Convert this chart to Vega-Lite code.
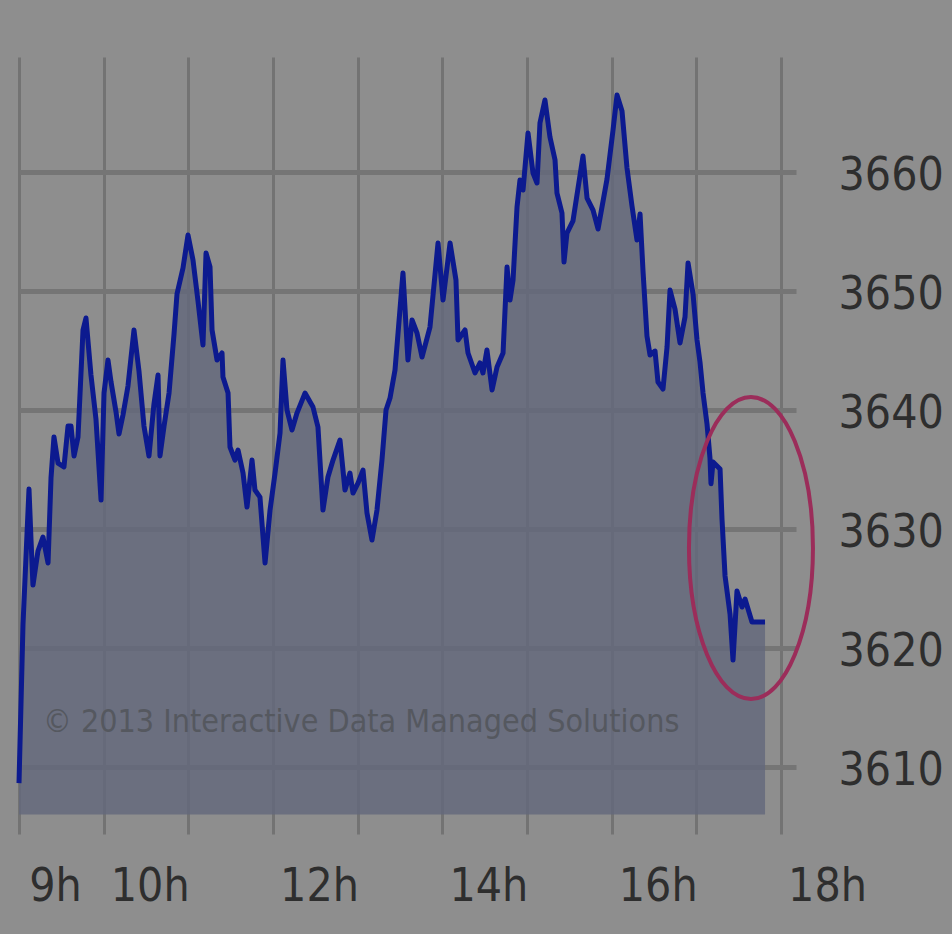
{
  "$schema": "https://vega.github.io/schema/vega-lite/v6.json",
  "width": 777,
  "height": 777,
  "autosize": {"type": "none"},
  "padding": {"left": 19, "top": 57, "right": 156, "bottom": 100},
  "background": "#8e8e8e",
  "config": {"view": {"stroke": null}},
  "data": {"values": [
    {"t": 9.000, "v": 3608.65}, {"t": 9.047, "v": 3621.93}, {"t": 9.118, "v": 3633.36}, {"t": 9.142, "v": 3629.07},
    {"t": 9.165, "v": 3625.29}, {"t": 9.224, "v": 3628.15}, {"t": 9.283, "v": 3629.32}, {"t": 9.343, "v": 3627.14},
    {"t": 9.378, "v": 3634.28}, {"t": 9.413, "v": 3637.73}, {"t": 9.461, "v": 3635.54}, {"t": 9.531, "v": 3635.21},
    {"t": 9.579, "v": 3638.65}, {"t": 9.614, "v": 3638.65}, {"t": 9.650, "v": 3636.13}, {"t": 9.697, "v": 3637.73},
    {"t": 9.756, "v": 3646.72}, {"t": 9.791, "v": 3647.73}, {"t": 9.850, "v": 3642.94}, {"t": 9.909, "v": 3639.24},
    {"t": 9.969, "v": 3632.43}, {"t": 10.004, "v": 3641.42}, {"t": 10.051, "v": 3644.20}, {"t": 10.087, "v": 3642.35},
    {"t": 10.146, "v": 3639.83}, {"t": 10.181, "v": 3637.98}, {"t": 10.228, "v": 3639.58}, {"t": 10.287, "v": 3642.01},
    {"t": 10.358, "v": 3646.72}, {"t": 10.417, "v": 3643.27}, {"t": 10.476, "v": 3638.65}, {"t": 10.535, "v": 3636.13},
    {"t": 10.594, "v": 3640.50}, {"t": 10.642, "v": 3642.94}, {"t": 10.665, "v": 3636.13}, {"t": 10.713, "v": 3638.65},
    {"t": 10.772, "v": 3641.42}, {"t": 10.831, "v": 3646.38}, {"t": 10.866, "v": 3649.74}, {"t": 10.937, "v": 3651.93},
    {"t": 10.996, "v": 3654.70}, {"t": 11.055, "v": 3652.60}, {"t": 11.114, "v": 3649.16}, {"t": 11.173, "v": 3645.46},
    {"t": 11.209, "v": 3653.19}, {"t": 11.256, "v": 3652.01}, {"t": 11.280, "v": 3646.72}, {"t": 11.339, "v": 3644.20},
    {"t": 11.398, "v": 3644.79}, {"t": 11.409, "v": 3642.77}, {"t": 11.469, "v": 3641.42}, {"t": 11.492, "v": 3636.89},
    {"t": 11.551, "v": 3635.79}, {"t": 11.587, "v": 3636.63}, {"t": 11.646, "v": 3634.70}, {"t": 11.693, "v": 3631.84},
    {"t": 11.752, "v": 3635.79}, {"t": 11.787, "v": 3633.27}, {"t": 11.846, "v": 3632.68}, {"t": 11.906, "v": 3627.14},
    {"t": 11.965, "v": 3631.59}, {"t": 12.024, "v": 3634.70}, {"t": 12.083, "v": 3638.06}, {"t": 12.118, "v": 3644.20},
    {"t": 12.165, "v": 3640.00}, {"t": 12.224, "v": 3638.32}, {"t": 12.283, "v": 3639.74}, {"t": 12.378, "v": 3641.42},
    {"t": 12.472, "v": 3640.25}, {"t": 12.531, "v": 3638.57}, {"t": 12.590, "v": 3631.59}, {"t": 12.649, "v": 3634.37},
    {"t": 12.709, "v": 3635.79}, {"t": 12.791, "v": 3637.47}, {"t": 12.850, "v": 3633.27}, {"t": 12.909, "v": 3634.70},
    {"t": 12.945, "v": 3633.02}, {"t": 13.004, "v": 3633.86}, {"t": 13.063, "v": 3634.95}, {"t": 13.110, "v": 3631.34},
    {"t": 13.169, "v": 3629.07}, {"t": 13.228, "v": 3631.59}, {"t": 13.287, "v": 3635.79}, {"t": 13.335, "v": 3640.00},
    {"t": 13.382, "v": 3641.00}, {"t": 13.441, "v": 3643.36}, {"t": 13.535, "v": 3651.51}, {"t": 13.594, "v": 3644.20},
    {"t": 13.642, "v": 3647.56}, {"t": 13.701, "v": 3646.47}, {"t": 13.760, "v": 3644.45}, {"t": 13.854, "v": 3646.97},
    {"t": 13.949, "v": 3654.03}, {"t": 14.008, "v": 3649.24}, {"t": 14.091, "v": 3654.03}, {"t": 14.161, "v": 3650.92},
    {"t": 14.185, "v": 3645.88}, {"t": 14.268, "v": 3646.72}, {"t": 14.303, "v": 3644.79}, {"t": 14.386, "v": 3643.11},
    {"t": 14.445, "v": 3643.95}, {"t": 14.480, "v": 3643.11}, {"t": 14.527, "v": 3645.04}, {"t": 14.587, "v": 3641.68},
    {"t": 14.646, "v": 3643.61}, {"t": 14.717, "v": 3644.79}, {"t": 14.764, "v": 3652.01}, {"t": 14.799, "v": 3649.24},
    {"t": 14.835, "v": 3650.92}, {"t": 14.882, "v": 3657.05}, {"t": 14.917, "v": 3659.32}, {"t": 14.953, "v": 3658.48},
    {"t": 15.012, "v": 3663.27}, {"t": 15.071, "v": 3659.91}, {"t": 15.118, "v": 3659.07}, {"t": 15.153, "v": 3664.11},
    {"t": 15.212, "v": 3666.05}, {"t": 15.271, "v": 3662.94}, {"t": 15.331, "v": 3661.00}, {"t": 15.354, "v": 3658.23},
    {"t": 15.413, "v": 3656.55}, {"t": 15.437, "v": 3652.43}, {"t": 15.472, "v": 3654.87}, {"t": 15.543, "v": 3655.88},
    {"t": 15.661, "v": 3661.34}, {"t": 15.709, "v": 3657.81}, {"t": 15.780, "v": 3656.80}, {"t": 15.839, "v": 3655.21},
    {"t": 15.945, "v": 3659.41}, {"t": 16.016, "v": 3663.53}, {"t": 16.063, "v": 3666.47}, {"t": 16.122, "v": 3665.12},
    {"t": 16.181, "v": 3660.33}, {"t": 16.240, "v": 3657.14}, {"t": 16.299, "v": 3654.28}, {"t": 16.335, "v": 3656.47},
    {"t": 16.370, "v": 3651.68}, {"t": 16.417, "v": 3646.21}, {"t": 16.453, "v": 3644.62}, {"t": 16.512, "v": 3644.95},
    {"t": 16.547, "v": 3642.35}, {"t": 16.606, "v": 3641.76}, {"t": 16.654, "v": 3645.29}, {"t": 16.689, "v": 3650.08},
    {"t": 16.748, "v": 3648.48}, {"t": 16.807, "v": 3645.63}, {"t": 16.866, "v": 3647.81}, {"t": 16.902, "v": 3652.35},
    {"t": 16.961, "v": 3649.74}, {"t": 17.008, "v": 3645.88}, {"t": 17.043, "v": 3644.03}, {"t": 17.079, "v": 3641.42},
    {"t": 17.126, "v": 3638.82}, {"t": 17.161, "v": 3635.96}, {"t": 17.173, "v": 3633.80}, {"t": 17.197, "v": 3635.63},
    {"t": 17.280, "v": 3635.04}, {"t": 17.303, "v": 3630.84}, {"t": 17.339, "v": 3626.05}, {"t": 17.398, "v": 3622.85},
    {"t": 17.433, "v": 3618.99}, {"t": 17.480, "v": 3624.79}, {"t": 17.539, "v": 3623.44}, {"t": 17.575, "v": 3624.11},
    {"t": 17.657, "v": 3622.18}, {"t": 17.752, "v": 3622.18}, {"t": 17.811, "v": 3622.18}
  ]},
  "layer": [
    {
      "mark": {"type": "area", "color": "#63687c", "fillOpacity": 0.8},
      "encoding": {
        "x": {
          "field": "t", "type": "quantitative",
          "scale": {"domain": [9, 18.177], "nice": false, "zero": false},
          "axis": {
            "title": null, "values": [9, 10, 11, 12, 13, 14, 15, 16, 17, 18],
            "labelExpr": "indexof([11,13,15,17], datum.value) >= 0 ? '' : datum.value + 'h'",
            "grid": true, "gridColor": "#737373", "gridWidth": 3,
            "ticks": false, "domain": false,
            "labelOffset": {"condition": {"test": "datum.value == 9", "value": 36}, "value": 46},
            "labelFont": "DejaVu Sans Condensed, DejaVu Sans, sans-serif",
            "labelFontSize": 46, "labelColor": "#2e2e2e", "labelPadding": 52,
            "labelBaseline": "middle",
            "labelFlush": false, "labelOverlap": false, "labelBound": false
          }
        },
        "y": {
          "field": "v", "type": "quantitative",
          "scale": {"domain": [3604.37, 3669.66], "nice": false, "zero": false},
          "axis": {
            "title": null, "orient": "right", "values": [3610, 3620, 3630, 3640, 3650, 3660],
            "format": "d",
            "grid": true, "gridColor": "#757575", "gridWidth": 5,
            "ticks": false, "domain": false,
            "labelFont": "DejaVu Sans Condensed, DejaVu Sans, sans-serif",
            "labelFontSize": 46, "labelColor": "#2e2e2e", "labelPadding": 42,
            "labelAlign": "left", "labelBaseline": "middle", "labelOffset": 4,
            "labelFlush": false, "labelOverlap": false, "labelBound": false
          }
        },
        "y2": {"datum": 3606}
      }
    },
    {
      "mark": {"type": "line", "color": "#0c1a8f", "strokeWidth": 5, "strokeJoin": "round"},
      "encoding": {
        "x": {"field": "t", "type": "quantitative"},
        "y": {"field": "v", "type": "quantitative"}
      }
    },
    {
      "data": {"values": [{"label": "© 2013 Interactive Data Managed Solutions"}]},
      "mark": {"type": "text", "align": "left", "baseline": "middle", "font": "DejaVu Sans Condensed, DejaVu Sans, sans-serif", "fontSize": 32, "color": "#55585f"},
      "encoding": {
        "x": {"datum": 9.283, "type": "quantitative"},
        "y": {"datum": 3613.8, "type": "quantitative"},
        "text": {"field": "label"}
      }
    },
    {
      "data": {"values": [{"note": "close"}]},
      "mark": {
        "type": "point",
        "shape": "M 0 -1 C 0.2268 -1 0.4106 -0.5523 0.4106 0 C 0.4106 0.5523 0.2268 1 0 1 C -0.2268 1 -0.4106 0.5523 -0.4106 0 C -0.4106 -0.5523 -0.2268 -1 0 -1 Z",
        "size": 91204, "filled": false, "stroke": "#9b2d5a", "strokeWidth": 4, "opacity": 1
      },
      "encoding": {
        "x": {"datum": 17.645, "type": "quantitative"},
        "y": {"datum": 3628.4, "type": "quantitative"}
      }
    }
  ]
}
